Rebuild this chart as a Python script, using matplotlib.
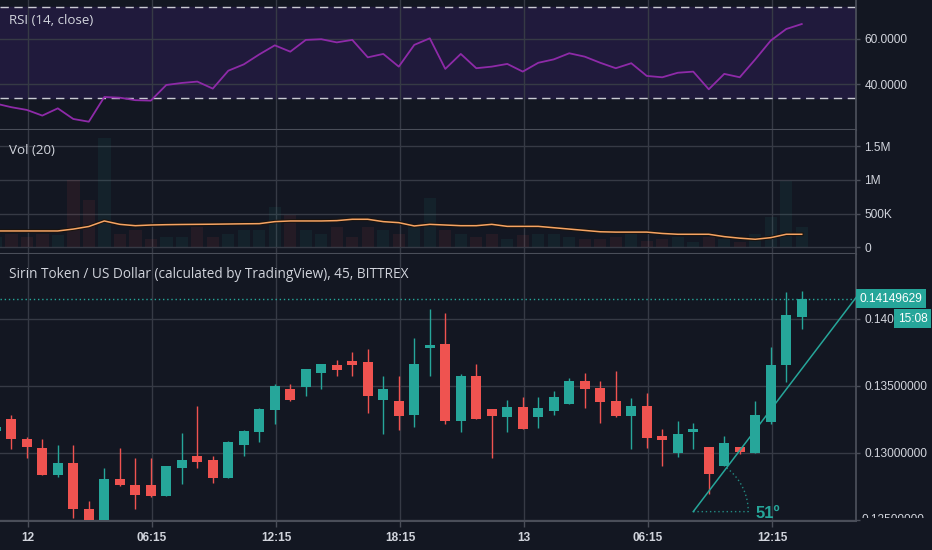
import numpy as np
import matplotlib.pyplot as plt
from matplotlib.transforms import Bbox, TransformedBbox, blended_transform_factory

W, H = 932, 550
BG = '#131722'
GRID = '#363a45'
SEP = '#4a4e59'
TXT = '#d1d4dc'
UP = '#26a69a'
DOWN = '#ef5350'

# candles, 45 min, bar index -1..51
bars = np.arange(-1, 52)
opens = [0.13160, 0.13249, 0.13102, 0.13037, 0.12831, 0.12925, 0.12577, 0.12497, 0.12806, 0.12761,
         0.12761, 0.12674, 0.12883, 0.12978, 0.12943, 0.12813, 0.13057, 0.13152, 0.13316, 0.13475,
         0.13493, 0.13597, 0.13657, 0.13682, 0.13674, 0.13393, 0.13386, 0.13284, 0.13779, 0.13811,
         0.13239, 0.13570, 0.13326, 0.13266, 0.13343, 0.13266, 0.13308, 0.13361, 0.13535, 0.13480,
         0.13386, 0.13276, 0.13351, 0.13124, 0.13000, 0.13157, 0.13045, 0.12900, 0.13045, 0.13000,
         0.13231, 0.13654, 0.14015]
highs = [0.13200, 0.13281, 0.13117, 0.13102, 0.13057, 0.13057, 0.12639, 0.12888, 0.13032, 0.12963,
         0.12963, 0.12898, 0.13144, 0.13351, 0.12975, 0.13090, 0.13169, 0.13331, 0.13510, 0.13510,
         0.13622, 0.13664, 0.13692, 0.13749, 0.13771, 0.13572, 0.13572, 0.13856, 0.14075, 0.14045,
         0.13587, 0.13664, 0.13326, 0.13393, 0.13413, 0.13413, 0.13458, 0.13560, 0.13597, 0.13535,
         0.13610, 0.13410, 0.13448, 0.13177, 0.13236, 0.13219, 0.13045, 0.13122, 0.13045, 0.13386,
         0.13790, 0.14197, 0.14209]
lows = [0.13140, 0.13025, 0.12958, 0.12831, 0.12816, 0.12510, 0.12490, 0.12490, 0.12754, 0.12577,
        0.12667, 0.12674, 0.12764, 0.12883, 0.12771, 0.12808, 0.12978, 0.13082, 0.13211, 0.13388,
        0.13425, 0.13475, 0.13572, 0.13572, 0.13294, 0.13137, 0.13169, 0.13189, 0.13572, 0.13214,
        0.13152, 0.13249, 0.12963, 0.13152, 0.13179, 0.13184, 0.13284, 0.13361, 0.13333, 0.13224,
        0.13266, 0.13025, 0.13032, 0.12903, 0.12965, 0.13025, 0.12694, 0.12900, 0.12988, 0.13000,
        0.13214, 0.13525, 0.13920]
closes = [0.13190, 0.13102, 0.13040, 0.12831, 0.12925, 0.12577, 0.12497, 0.12806, 0.12759, 0.12684,
          0.12679, 0.12898, 0.12943, 0.12933, 0.12813, 0.13082, 0.13162, 0.13326, 0.13500, 0.13393,
          0.13622, 0.13664, 0.13614, 0.13657, 0.13423, 0.13473, 0.13276, 0.13664, 0.13803, 0.13239,
          0.13570, 0.13249, 0.13276, 0.13341, 0.13179, 0.13333, 0.13413, 0.13535, 0.13475, 0.13381,
          0.13274, 0.13351, 0.13112, 0.13095, 0.13142, 0.13177, 0.12838, 0.13072, 0.13007, 0.13281,
          0.13654, 0.14027, 0.14150]
last_price = 0.14149629

volume = [150e3, 200e3, 150e3, 200e3, 180e3, 1.0e6, 700e3, 1.62e6, 200e3, 250e3,
          120e3, 150e3, 150e3, 300e3, 150e3, 200e3, 250e3, 250e3, 600e3, 480e3,
          250e3, 200e3, 300e3, 150e3, 300e3, 250e3, 200e3, 350e3, 725e3, 250e3,
          200e3, 150e3, 200e3, 120e3, 180e3, 200e3, 200e3, 150e3, 120e3, 130e3,
          150e3, 200e3, 100e3, 120e3, 150e3, 80e3, 150e3, 120e3, 80e3, 200e3,
          450e3, 975e3, 300e3]
vol_ma = [242e3, 242e3, 242e3, 242e3, 242e3, 270e3, 308e3, 390e3, 340e3, 320e3,
          330e3, 335e3, 338e3, 340e3, 342e3, 345e3, 348e3, 350e3, 380e3, 390e3,
          390e3, 390e3, 395e3, 415e3, 415e3, 380e3, 365e3, 316e3, 340e3, 330e3,
          320e3, 320e3, 340e3, 310e3, 310e3, 310e3, 290e3, 270e3, 250e3, 230e3,
          225e3, 225e3, 225e3, 205e3, 193e3, 193e3, 193e3, 158e3, 135e3, 119e3,
          143e3, 193e3, 193e3]

rsi = [31.5, 29.9, 28.7, 26.2, 29.4, 24.7, 23.5, 34.4, 34.1, 33.0,
       32.8, 39.7, 40.6, 41.2, 38.1, 46.0, 48.8, 53.2, 57.2, 54.4,
       59.6, 59.9, 58.5, 59.6, 51.9, 53.4, 47.8, 57.4, 60.3, 46.8,
       53.4, 47.1, 47.8, 49.0, 45.6, 49.5, 51.0, 53.7, 52.2, 49.5,
       47.1, 49.3, 43.7, 43.1, 45.1, 45.6, 37.8, 44.6, 43.1, 51.0,
       59.3, 64.4, 66.6]
rsi_upper, rsi_lower = 74.0, 33.8

time_ticks = [1, 9, 17, 25, 33, 41, 49]
time_labels = ['12', '06:15', '12:15', '18:15', '13', '06:15', '12:15']

# trend line drawing (bar, price)
trend_start = (44.0, 0.12560)
trend_end = (54.54, 0.14164)
angle_label = '51º'

plt.rcParams['font.family'] = ['Liberation Sans', 'DejaVu Sans']
TITLE_FONT = ['Open Sans', 'DejaVu Sans']

fig = plt.figure(figsize=(W / 100, H / 100), dpi=100, facecolor=BG)


def px_axes(x0, y0, x1, y1):
    return fig.add_axes([x0 / W, 1 - y1 / H, (x1 - x0) / W, (y1 - y0) / H])


ax_rsi = px_axes(0, 0, 856, 130)
ax_vol = px_axes(0, 130, 856, 254)
ax_px = px_axes(0, 254, 856, 521)

xlim = (-0.73, 54.5)
tick_x = [t + 0.08 for t in time_ticks]

for ax in (ax_rsi, ax_vol, ax_px):
    ax.set_facecolor(BG)
    ax.set_xlim(*xlim)
    for s in ('top', 'left'):
        ax.spines[s].set_visible(False)
    ax.spines['right'].set_color(SEP)
    ax.spines['right'].set_linewidth(1.3)
    ax.spines['bottom'].set_color(SEP)
    ax.spines['bottom'].set_linewidth(1.5)
    ax.yaxis.tick_right()
    ax.tick_params(axis='y', colors=SEP, labelcolor=TXT, labelsize=8.6,
                   length=3, width=1, pad=3)
    ax.set_xticks(tick_x)
    ax.grid(True, color=GRID, linewidth=1)
    ax.set_axisbelow(True)

for ax in (ax_rsi, ax_vol):
    ax.tick_params(axis='x', length=0, labelbottom=False)

# RSI panel
ax_rsi.set_ylim(19.84, 77.2)
ax_rsi.axhspan(rsi_lower, rsi_upper, color='#201a3c', zorder=0)
ax_rsi.axhline(rsi_upper, color='#c9cad3', lw=1, ls=(0, (6, 4)))
ax_rsi.axhline(rsi_lower, color='#c9cad3', lw=1, ls=(0, (6, 4)))
ax_rsi.plot(bars, rsi, color='#8e2aa8', lw=1.3)
ax_rsi.set_yticks([40, 60])
ax_rsi.set_yticklabels(['40.0000', '60.0000'])
ax_rsi.text(9 / 856, 1 - 20 / 130, 'RSI (14, close)', transform=ax_rsi.transAxes,
            color=TXT, fontsize=9.6, family=TITLE_FONT, va='center')

# Volume panel
ax_vol.set_ylim(-0.0992e6, 1.737e6)
vol_colors = [UP if c >= o else DOWN for o, c in zip(opens, closes)]
ax_vol.bar(bars, volume, width=0.8, color=vol_colors, alpha=0.08, zorder=1)
ax_vol.plot(bars, vol_ma, color='#1a1410', lw=2.6, zorder=2)
ax_vol.plot(bars, vol_ma, color='#f7a463', lw=1.1, zorder=3)
ax_vol.set_yticks([0, 0.5e6, 1e6, 1.5e6])
ax_vol.set_yticklabels(['0', '500K', '1M', '1.5M'])
ax_vol.text(9 / 856, 1 - 20 / 124, 'Vol (20)', transform=ax_vol.transAxes,
            color=TXT, fontsize=9.6, family=TITLE_FONT, va='center')

# Price panel
ax_px.set_ylim(0.12490, 0.14483)
for b, o, h, l, c in zip(bars, opens, highs, lows, closes):
    col = UP if c >= o else DOWN
    ax_px.vlines(b, l, h, color=col, lw=1, zorder=2)
    ax_px.bar(b, max(abs(c - o), 0.00005), bottom=min(o, c), width=0.65,
              color=col, zorder=3)

ax_px.axhline(last_price, color=UP, lw=1, ls=(0, (1, 2)), zorder=2)
ax_px.set_yticks([0.125, 0.130, 0.135, 0.140])
ax_px.set_yticklabels(['', '0.13000000', '0.13500000', '0.14000000'])
ax_px.set_xticklabels(time_labels, fontweight='bold')
ax_px.tick_params(axis='x', colors=SEP, labelcolor=TXT, labelsize=8.5,
                  length=4, width=1, pad=4)

# bottom scale label, cut by the pane edge
clip = TransformedBbox(Bbox([[1.0, 0.012], [1.2, 1.0]]), ax_px.transAxes)
yt = blended_transform_factory(ax_px.transAxes, ax_px.transData)
lab = ax_px.text(1.0 + 6 / 856, 0.125, '0.12500000', transform=yt, color=TXT,
                 fontsize=8.6, va='center', ha='left', clip_on=True)
lab.set_clip_box(clip)

ax_px.annotate('0.14149629', xy=(1.0, last_price), xycoords=yt,
               xytext=(2.6, 0), textcoords='offset points', ha='left', va='center',
               color='white', fontsize=8.6, annotation_clip=False, zorder=6,
               bbox=dict(boxstyle='square,pad=0.28', fc=UP, ec='none'))
ax_px.annotate('15:08', xy=(1.0, last_price), xycoords=yt,
               xytext=(51.5, -14.3), textcoords='offset points', ha='right', va='center',
               color='white', fontsize=8.6, annotation_clip=False, zorder=6,
               bbox=dict(boxstyle='square,pad=0.3', fc=UP, ec='none'))

ax_px.text(9 / 856, 1 - 20 / 267, 'Sirin Token / US Dollar (calculated by TradingView), 45, BITTREX',
           transform=ax_px.transAxes, color=TXT, fontsize=9.8,
           family=TITLE_FONT, va='center')

# trend line with angle arc
ax_px.plot([trend_start[0], trend_end[0]], [trend_start[1], trend_end[1]],
           color=UP, lw=1.1, zorder=4)
p0 = ax_px.transData.transform(trend_start)
p1 = ax_px.transData.transform(trend_end)
ang = np.arctan2(p1[1] - p0[1], p1[0] - p0[0])
r = 55
t = np.linspace(0, ang, 40)
arc = np.column_stack([p0[0] + r * np.cos(t), p0[1] + r * np.sin(t)])
arc = np.vstack([p0, arc])
arc_d = ax_px.transData.inverted().transform(arc)
ax_px.plot(arc_d[:, 0], arc_d[:, 1], color=UP, lw=1, ls=(0, (1, 2)), alpha=0.8, zorder=4)
lbl = ax_px.transData.inverted().transform((p0[0] + r + 7, p0[1] - 2))
ax_px.text(lbl[0], lbl[1], angle_label, color=UP, fontsize=12, fontweight='bold',
           va='center', ha='left', zorder=5)

fig.savefig('out.png', dpi=100, facecolor=BG)
